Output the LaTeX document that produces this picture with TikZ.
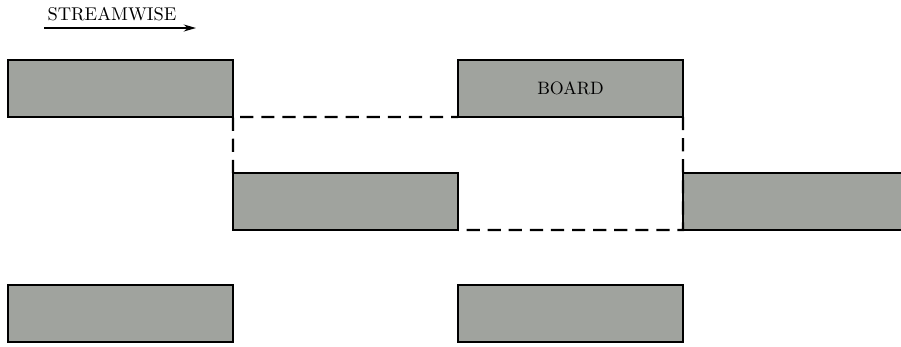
\documentclass[tikz,border=0pt]{standalone}
\usepackage{xcolor}
\usepackage{tikz}
\usetikzlibrary{arrows.meta,positioning}
\definecolor{boardgray}{RGB}{160,163,158}

\begin{document}
\begin{tikzpicture}[x=0.02cm,y=-0.02cm,
    board/.style={draw,line width=1.2pt,fill=boardgray,minimum width=4.5cm,minimum height=1.14cm,inner sep=0pt,outer sep=0pt,anchor=north west},
    gap/.style={line width=1.2pt,dash pattern=on 7.5pt off 4.5pt}]
  \useasboundingbox (0,0) rectangle (901,346);
  \clip (0,0) rectangle (901,346);
  % boards, three rows
  \node[board] (b11) at (8,60) {};
  \node[board] (b12) at (458,60) {\fontsize{10.2}{12}\selectfont BOARD};
  \node[board] (b21) at (233,173) {};
  \node[board] (b22) at (683,173) {};
  \node[board] (b31) at (8,285) {};
  \node[board] (b32) at (458,285) {};
  % cell outline
  \draw[gap] (b21.north west) -- (b11.south east) -- (b12.south west);
  \draw[gap] (b12.south east) -- (b22.south west) -- (b21.south east);
  % flow direction
  \coordinate (fs) at (44,28);
  \coordinate (fe) at (196,28);
  \draw[-{Stealth[length=7pt,width=4pt]},line width=0.9pt] (fs) -- (fe);
  \node[font=\fontsize{10.5}{12}\selectfont] (flow) at (112,14) {STREAMWISE};
\end{tikzpicture}
\end{document}
